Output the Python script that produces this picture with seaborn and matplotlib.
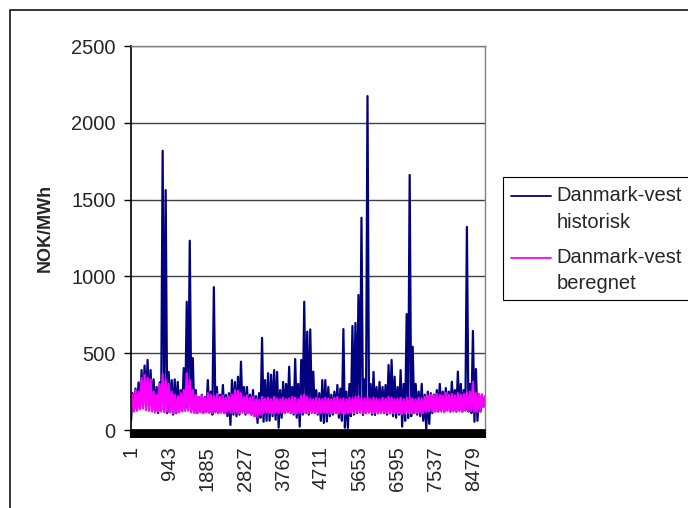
import numpy as np
import pandas as pd
import matplotlib
matplotlib.use("Agg")
import matplotlib.pyplot as plt
import seaborn as sns
from matplotlib.ticker import MultipleLocator, FixedLocator
from matplotlib.patches import Rectangle
from matplotlib.lines import Line2D

# ---- data (upper / lower envelope per ~74-hour block) ----
hist_hi = [240, 270, 310, 390, 420, 456, 390, 330, 280, 310,
           1818, 1562, 378, 325, 330, 313, 260, 403, 835, 1232,
           468, 260, 215, 230, 215, 325, 250, 930, 280, 230,
           293, 228, 240, 325, 312, 347, 445, 280, 280, 230,
           260, 220, 240, 600, 325, 370, 360, 390, 378, 260,
           313, 300, 412, 280, 462, 300, 456, 835, 640, 655,
           380, 260, 240, 325, 325, 280, 230, 250, 293, 270,
           657, 250, 300, 677, 697, 879, 1382, 330, 2174, 300,
           378, 280, 313, 280, 293, 423, 456, 347, 280, 390,
           300, 755, 1660, 542, 300, 250, 300, 230, 250, 240,
           230, 260, 300, 250, 273, 250, 314, 260, 380, 300,
           260, 1322, 300, 645, 397, 228, 230, 210]
hist_lo = [60, 130, 140, 150, 160, 170, 150, 140, 120, 110,
           130, 120, 110, 120, 100, 110, 120, 130, 140, 150,
           130, 120, 110, 120, 110, 120, 115, 100, 120, 110,
           120, 110, 90, 33, 100, 90, 100, 120, 100, 110,
           100, 90, 46, 80, 54, 60, 61, 90, 67, 15,
           80, 110, 120, 110, 100, 80, 22, 100, 110, 100,
           120, 110, 100, 60, 46, 55, 90, 100, 110, 80,
           60, 15, 13, 90, 100, 110, 120, 98, 110, 120,
           100, 98, 110, 120, 110, 100, 110, 90, 80, 100,
           22, 60, 78, 90, 110, 100, 90, 60, 5, 40,
           110, 120, 120, 130, 120, 130, 120, 130, 120, 130,
           120, 130, 120, 110, 54, 60, 120, 150]
calc_hi = [230, 260, 250, 338, 360, 340, 330, 250, 230, 300,
           365, 330, 300, 250, 230, 220, 240, 260, 370, 325,
           260, 230, 215, 225, 210, 240, 230, 220, 235, 215,
           225, 210, 220, 230, 260, 255, 240, 215, 225, 210,
           215, 200, 195, 215, 205, 210, 200, 215, 205, 200,
           210, 200, 205, 215, 210, 200, 225, 230, 215, 205,
           200, 210, 205, 200, 210, 205, 200, 210, 215, 200,
           205, 200, 210, 205, 215, 220, 210, 205, 215, 200,
           210, 205, 200, 210, 205, 215, 210, 200, 205, 210,
           200, 210, 215, 205, 200, 210, 205, 215, 225, 230,
           225, 235, 230, 225, 240, 230, 235, 225, 240, 230,
           235, 245, 250, 314, 240, 235, 230, 220]
calc_lo = [125, 120, 125, 135, 140, 130, 125, 120, 115, 120,
           120, 115, 120, 115, 110, 115, 115, 120, 125, 125,
           115, 110, 112, 115, 110, 115, 112, 110, 115, 110,
           112, 110, 115, 112, 117, 115, 110, 112, 108, 110,
           100, 90, 85, 100, 110, 112, 110, 108, 112, 110,
           112, 110, 115, 112, 110, 108, 112, 115, 110, 112,
           110, 112, 108, 110, 112, 110, 108, 112, 110, 108,
           110, 105, 108, 112, 110, 115, 112, 108, 110, 112,
           110, 112, 108, 110, 112, 110, 108, 110, 112, 110,
           105, 108, 112, 110, 112, 110, 115, 112, 118, 120,
           122, 120, 125, 120, 118, 125, 122, 120, 125, 122,
           120, 125, 122, 125, 120, 118, 122, 150]

x_tick_labels = [1, 943, 1885, 2827, 3769, 4711, 5653, 6595, 7537, 8479]
y_ticks = [0, 500, 1000, 1500, 2000, 2500]
series_names = ["Danmark-vest\nhistorisk", "Danmark-vest\nberegnet"]
series_colors = ["#000080", "#FF00FF"]
n_hours = 8760


def interleave(lo, hi):
    return np.column_stack([lo, hi]).ravel()


hist = interleave(hist_lo, hist_hi)
calc = interleave(calc_lo, calc_hi)
hours = np.linspace(1, n_hours, len(hist))

df = pd.DataFrame({
    "hour": np.concatenate([hours, hours]),
    "value": np.concatenate([hist, calc]),
    "serie": [series_names[0]] * len(hist) + [series_names[1]] * len(calc),
})

sns.set_style("white")
plt.rcParams['font.family'] = ['Liberation Sans', 'DejaVu Sans']

W, H = 688, 508
fig = plt.figure(figsize=(W / 100, H / 100), dpi=100)
fig.patch.set_facecolor("white")
ax = fig.add_axes([131 / W, 78 / H, 354 / W, 384 / H])

sns.lineplot(data=df, x="hour", y="value", hue="serie", hue_order=series_names,
             palette=series_colors, linewidth=1.6, legend=False, ax=ax,
             estimator=None, sort=False)

ax.set_xlim(0.5, n_hours + 0.5)
ax.set_ylim(0, 2500)
ax.set_yticks(y_ticks)
ax.set_yticklabels([str(v) for v in y_ticks], fontsize=14.5)
ax.yaxis.grid(True, color="#404040", linewidth=1.0)
ax.xaxis.grid(False)
ax.set_axisbelow(True)

ax.xaxis.set_major_locator(FixedLocator(x_tick_labels))
ax.set_xticklabels([str(v) for v in x_tick_labels], rotation=90, fontsize=14.5)
ax.xaxis.set_minor_locator(MultipleLocator(10))
ax.tick_params(axis="x", which="both", direction="out", length=5.5, width=1.5,
               color="black", pad=6, bottom=True)
ax.tick_params(axis="y", which="major", direction="out", length=5, width=1.0,
               color="black", pad=6, left=True)

ax.set_xlabel("")
ax.set_ylabel("NOK/MWh", fontsize=13, fontweight="bold")
ax.yaxis.set_label_coords(-0.218, 0.527)

for side in ["left", "bottom"]:
    ax.spines[side].set_color("black")
    ax.spines[side].set_linewidth(1.2)
for side in ["top", "right"]:
    ax.spines[side].set_color("#808080")
    ax.spines[side].set_linewidth(1.0)

# outer chart border
fig.add_artist(Rectangle((10 / W, -0.05), 1.2, (1 - 10 / H) + 0.05,
                         transform=fig.transFigure, fill=False,
                         edgecolor="black", linewidth=1.1))

# legend box
fig.add_artist(Rectangle((502.7 / W, (H - 300) / H), 0.5, 123.3 / H,
                         transform=fig.transFigure, fill=False,
                         edgecolor="black", linewidth=0.8))
line_y = [196, 257.7]
baselines = [[201, 227.5], [263, 289]]
for name, color, ly, bls in zip(series_names, series_colors, line_y, baselines):
    fig.add_artist(Line2D([510.7 / W, 550.7 / W], [(H - ly) / H] * 2,
                          transform=fig.transFigure, color=color, linewidth=1.3))
    for part, bl in zip(name.split("\n"), bls):
        fig.text(556.5 / W, (H - bl) / H, part, fontsize=14.5,
                 ha="left", va="baseline")

fig.savefig("out.png", dpi=100)
